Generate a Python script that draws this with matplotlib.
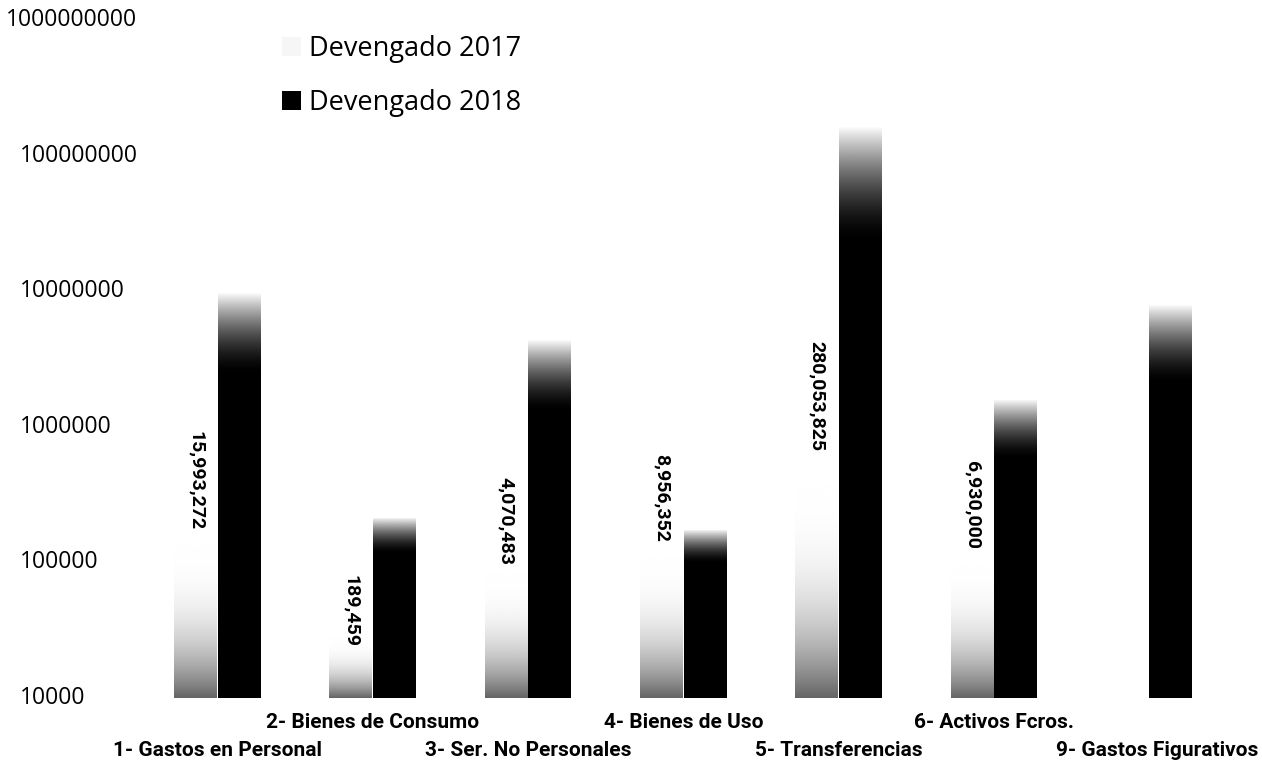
import numpy as np
import matplotlib
matplotlib.use("Agg")
import matplotlib.pyplot as plt
import matplotlib.transforms as mtransforms
from matplotlib.patches import Patch
from matplotlib.ticker import NullLocator

categories = ["1- Gastos en Personal", "2- Bienes de Consumo", "3- Ser. No Personales",
              "4- Bienes de Uso", "5- Transferencias", "6- Activos Fcros.",
              "9- Gastos Figurativos"]
dev_2017 = [15993272, 189459, 4070483, 8956352, 280053825, 6930000, np.nan]
dev_2018 = [9800000, 215000, 4400000, 175000, 165000000, 1600000, 8000000]
label_2017 = ["15,993,272", "189,459", "4,070,483", "8,956,352", "280,053,825", "6,930,000", ""]
yticks = [1e4, 1e5, 1e6, 1e7, 1e8, 1e9]

YMIN, YMAX = 1e4, 1e9
BAR_W = 0.28
LABEL_FONT = ["Roboto", "DejaVu Sans"]
TEXT_FONT = ["Open Sans", "DejaVu Sans"]

fig = plt.figure(figsize=(12.62, 7.73), dpi=100)
ax = fig.add_axes([140 / 1262, 75 / 773, 1087 / 1262, 678 / 773])
ax.set_yscale("log")
ax.set_xlim(-0.5, len(categories) - 0.5)
ax.set_ylim(YMIN, YMAX)
ax.set_autoscale_on(False)
for s in ax.spines.values():
    s.set_visible(False)
ax.yaxis.set_minor_locator(NullLocator())
ax.set_yticks(yticks)
ax.set_yticklabels([])
ax.set_xticks([])
ax.tick_params(length=0)

x = np.arange(len(categories))


def grad_2018(f):
    # solid dark body fading out to white at the top
    return np.clip((f - 0.8) / 0.2, 0, 1) ** 1.6


def grad_2017(f):
    # pale grey only near the base, smoothly reaching white
    return 1 - 0.6 * np.clip(1 - f / 0.35, 0, 1) ** 2.5


def gradient_bars(xpos, vals, gfunc):
    bars = ax.bar(xpos, [v - YMIN if np.isfinite(v) else 0 for v in vals], bottom=YMIN,
                  width=BAR_W, color="none", linewidth=0)
    f = np.linspace(0, 1, 400)[:, None]
    g = gfunc(f)
    img = np.dstack([g, g, g])
    for b, v in zip(bars, vals):
        if not np.isfinite(v):
            continue
        ftop = (np.log10(v) - np.log10(YMIN)) / (np.log10(YMAX) - np.log10(YMIN))
        ax.imshow(img, extent=(b.get_x(), b.get_x() + b.get_width(), 0, ftop),
                  transform=ax.get_xaxis_transform(), aspect="auto", origin="lower",
                  interpolation="bilinear", zorder=2)
    return bars


gradient_bars(x - BAR_W / 2, dev_2017, grad_2017)
gradient_bars(x + BAR_W / 2, dev_2018, grad_2018)

# value labels for 2017, centred on the bar
for xi, v, lab in zip(x, dev_2017, label_2017):
    if not lab:
        continue
    ax.text(xi - BAR_W / 2, np.sqrt(YMIN * v), lab, rotation=-90, ha="center", va="center",
            fontsize=14, fontweight="bold", family=LABEL_FONT, zorder=5)

# y tick labels, left aligned
ytrans = mtransforms.blended_transform_factory(fig.transFigure, ax.transData)
for v in yticks:
    xl = 6 / 1262 if v == 1e9 else 20 / 1262
    ax.text(xl, v, f"{int(v)}", transform=ytrans, ha="left", va="center",
            fontsize=16.5, family=TEXT_FONT, clip_on=False)

# staggered category labels (even categories on the upper row)
xtrans = ax.get_xaxis_transform()
for i, (xi, cat) in enumerate(zip(x, categories)):
    dy = -11 if i % 2 == 1 else -31
    if i == len(categories) - 1:
        ax.annotate(cat, (1258 / 1262, 0), xycoords=mtransforms.blended_transform_factory(fig.transFigure, ax.transAxes),
                    xytext=(0, dy), textcoords="offset points", ha="right", va="top",
                    fontsize=15, fontweight="bold", family=LABEL_FONT, annotation_clip=False)
    else:
        ax.annotate(cat, (xi, 0), xycoords=xtrans, xytext=(0, dy), textcoords="offset points",
                    ha="center", va="top", fontsize=15, fontweight="bold", family=LABEL_FONT,
                    annotation_clip=False)

handles = [Patch(facecolor="#f6f6f6", edgecolor="none"), Patch(facecolor="black", edgecolor="none")]
fig.legend(handles, ["Devengado 2017", "Devengado 2018"], loc="upper left",
           bbox_to_anchor=(282 / 1262, 1 - 35 / 773), frameon=False,
           prop={"family": TEXT_FONT, "size": 19.5}, handlelength=0.7, handleheight=0.7,
           handletextpad=0.3, labelspacing=0.97, borderpad=0, borderaxespad=0)

fig.savefig("out.png", dpi=100)
